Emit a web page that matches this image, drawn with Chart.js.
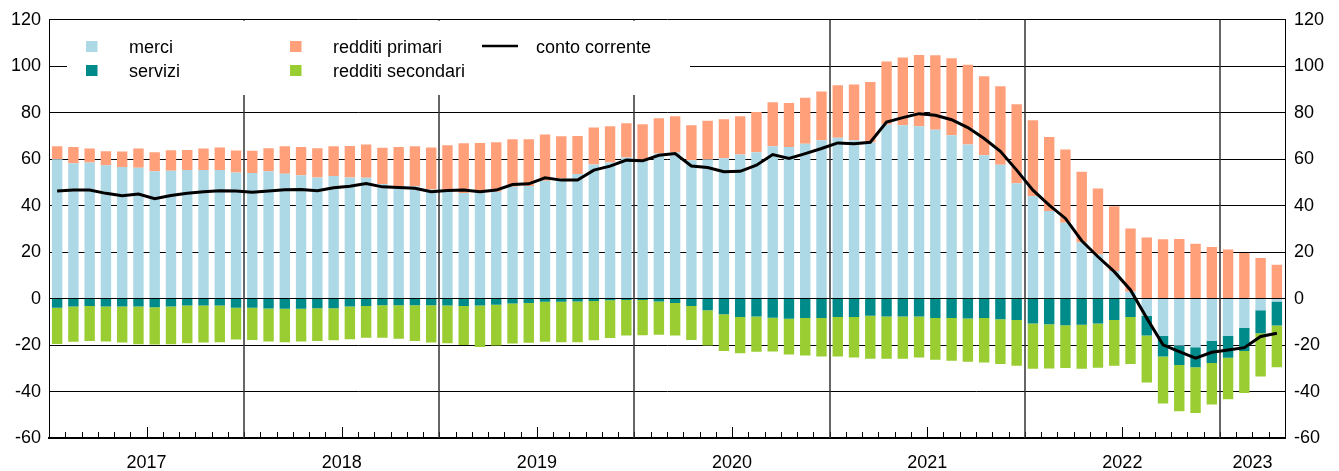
<!DOCTYPE html>
<html lang="it">
<head>
<meta charset="UTF-8">
<title>Conto corrente</title>
<script src="https://cdn.jsdelivr.net/npm/chart.js"></script>
<style>
  html, body { margin: 0; padding: 0; background: #fff; }
  #wrap { width: 1339px; height: 471px; position: relative; }
</style>
</head>
<body>
<div id="wrap"><canvas id="chart"></canvas></div>
<script>
// anni e mesi coperti (gen 2017 - apr 2023)
const years = ['2017', '2018', '2019', '2020', '2021', '2022', '2023'];
const monthsPerYear = [12, 12, 12, 12, 12, 12, 4];
const yTicks = [-60, -40, -20, 0, 20, 40, 60, 80, 100, 120];

const merci = [
  60.0, 58.3, 58.6, 57.4, 56.6, 56.3, 54.8, 55.0, 55.3, 55.3, 55.4, 54.3,
  54.1, 54.8, 53.7, 53.1, 52.1, 52.8, 52.1, 52.0, 49.3, 48.5, 48.4, 47.0,
  46.0, 45.5, 46.0, 46.0, 48.1, 48.5, 50.7, 51.7, 53.6, 57.7, 58.6, 60.7,
  59.1, 62.4, 62.9, 59.6, 59.9, 60.4, 62.0, 63.0, 65.6, 65.2, 66.7, 68.2,
  69.2, 68.2, 67.2, 74.9, 74.6, 74.2, 72.7, 70.3, 66.3, 61.7, 57.6, 49.7,
  44.1, 37.7, 32.7, 24.1, 19.0, 11.9, 3.0, -7.4, -16.0, -20.2, -20.9, -18.2,
  -16.0, -12.7, -5.0, -1.3
];
const servizi = [
  -3.9, -3.4, -3.2, -3.4, -3.4, -3.4, -3.7, -3.4, -3.0, -3.0, -3.0, -3.9,
  -3.9, -4.3, -4.4, -4.4, -4.2, -4.2, -3.4, -3.2, -2.9, -2.9, -2.9, -2.9,
  -3.0, -3.2, -3.0, -2.6, -2.1, -1.9, -1.4, -1.4, -1.3, -1.0, -0.7, -0.6,
  -0.6, -1.3, -1.9, -3.2, -5.0, -6.7, -7.9, -7.7, -8.2, -8.7, -8.4, -8.3,
  -7.9, -7.9, -7.4, -7.7, -7.7, -7.7, -8.3, -8.3, -8.6, -8.3, -8.9, -9.2,
  -10.7, -11.0, -11.5, -11.3, -10.7, -9.2, -7.9, -8.5, -8.9, -8.4, -8.7, -9.5,
  -9.5, -9.9, -9.9, -10.3
];
const redditiPrimari = [
  5.6, 7.0, 6.0, 6.0, 6.7, 8.3, 8.2, 8.9, 8.7, 9.3, 9.6, 9.4,
  9.5, 9.9, 11.9, 12.2, 12.6, 12.8, 13.6, 14.3, 15.6, 16.7, 17.2, 18.0,
  20.0, 21.4, 21.0, 21.3, 20.5, 20.1, 19.9, 18.2, 16.4, 15.9, 15.6, 14.8,
  15.9, 15.2, 15.6, 15.0, 16.6, 16.8, 16.5, 17.3, 18.9, 19.0, 19.8, 20.9,
  22.6, 23.9, 26.0, 27.1, 29.2, 30.6, 32.0, 33.2, 34.4, 34.0, 33.8, 33.9,
  32.7, 31.9, 31.5, 30.5, 28.4, 27.8, 27.2, 26.3, 25.5, 25.6, 23.6, 22.2,
  21.1, 19.6, 17.5, 14.6
];
const redditiSecondari = [
  -15.6, -15.2, -15.0, -15.1, -15.5, -16.2, -16.1, -16.2, -16.2, -15.9, -15.8, -13.7,
  -13.9, -14.2, -14.4, -14.1, -14.0, -13.7, -14.1, -13.7, -14.0, -14.4, -15.3, -16.0,
  -16.2, -16.8, -17.8, -17.6, -17.2, -17.1, -17.2, -17.4, -17.5, -16.9, -16.3, -15.3,
  -15.2, -14.3, -14.0, -14.6, -15.2, -15.9, -15.6, -15.2, -14.6, -15.4, -16.1, -16.6,
  -17.0, -17.4, -18.5, -18.2, -18.2, -17.6, -18.0, -18.5, -18.6, -19.2, -19.3, -19.7,
  -19.5, -19.1, -18.4, -18.9, -19.1, -19.7, -20.2, -20.2, -20.3, -19.9, -19.6, -17.9,
  -17.8, -18.0, -18.6, -18.0
];
const contoCorrente = [
  46.3, 46.7, 46.7, 45.3, 44.3, 45.0, 43.0, 44.4, 45.3, 46.0, 46.4, 46.3,
  45.8, 46.3, 46.8, 47.0, 46.4, 47.7, 48.4, 49.5, 48.1, 47.8, 47.5, 46.0,
  46.5, 46.7, 46.0, 46.7, 49.1, 49.4, 52.0, 51.0, 51.0, 55.3, 57.0, 59.6,
  59.3, 61.7, 62.4, 57.1, 56.4, 54.6, 54.8, 57.4, 62.0, 60.3, 62.4, 64.6,
  67.0, 66.7, 67.3, 76.0, 77.9, 79.6, 78.9, 77.0, 73.6, 68.9, 63.4, 55.3,
  46.7, 40.2, 34.5, 24.9, 18.0, 11.6, 3.7, -8.4, -19.9, -22.8, -25.6, -23.1,
  -22.1, -21.1, -16.3, -14.9
];

const colors = {
  merci: '#add8e6',
  servizi: '#008b8b',
  primari: '#ffa07a',
  secondari: '#9acd32'
};

const labels = [];
years.forEach((y, i) => {
  for (let m = 1; m <= monthsPerYear[i]; m++) labels.push(y + '-' + String(m).padStart(2, '0'));
});

Chart.defaults.font.family = '"Liberation Sans", Arial, sans-serif';
Chart.defaults.font.size = 18;
Chart.defaults.color = '#000';

const FONT = '18px "Liberation Sans", Arial, sans-serif';

// griglia degli anni, tacche mensili, legenda e etichette degli anni
const framePlugin = {
  id: 'frame',
  beforeDatasetsDraw(chart) {
    const { ctx, chartArea: a, scales: { x } } = chart;
    const n = labels.length;
    const edge = k => k === 0 ? a.left : k === n ? a.right
      : (x.getPixelForValue(k - 1) + x.getPixelForValue(k)) / 2;

    ctx.save();
    let start = 0;
    const starts = monthsPerYear.map(c => { const s = start; start += c; return s; });

    // tacche dei mesi
    ctx.strokeStyle = '#000';
    ctx.lineWidth = 1;
    for (let k = 1; k < n; k++) {
      const px = Math.round(edge(k)) + 0.5;
      const isMid = starts.some((s, i) => monthsPerYear[i] > 6 && k === s + 6);
      const len = isMid ? 11 : 6;
      ctx.beginPath();
      ctx.moveTo(px, a.bottom);
      ctx.lineTo(px, a.bottom - len);
      ctx.stroke();
    }

    // linee verticali di inizio anno
    ctx.strokeStyle = '#333';
    ctx.lineWidth = 1.5;
    starts.slice(1).forEach(s => {
      const px = Math.round(edge(s));
      ctx.beginPath();
      ctx.moveTo(px, a.top);
      ctx.lineTo(px, a.bottom);
      ctx.stroke();
    });

    // riquadro bianco della legenda
    ctx.fillStyle = '#fff';
    ctx.fillRect(67, a.top + 1, 623, 95 - a.top - 1);

    ctx.font = FONT;
    ctx.textBaseline = 'alphabetic';
    ctx.textAlign = 'left';
    const items = [
      { t: 'merci', c: colors.merci, x: 86, y: 41 },
      { t: 'servizi', c: colors.servizi, x: 86, y: 65 },
      { t: 'redditi primari', c: colors.primari, x: 290, y: 41 },
      { t: 'redditi secondari', c: colors.secondari, x: 290, y: 65 }
    ];
    items.forEach(it => {
      ctx.fillStyle = it.c;
      ctx.fillRect(it.x, it.y, 11.5, 11);
      ctx.fillStyle = '#000';
      ctx.fillText(it.t, it.x + 43, it.y + 12);
    });
    ctx.strokeStyle = '#000';
    ctx.lineWidth = 2.5;
    ctx.beginPath();
    ctx.moveTo(482, 46);
    ctx.lineTo(518, 46);
    ctx.stroke();
    ctx.fillText('conto corrente', 536, 53);

    // etichette degli anni
    ctx.textAlign = 'center';
    starts.forEach((s, i) => {
      const mid = (edge(s) + edge(s + monthsPerYear[i])) / 2;
      ctx.fillText(years[i], mid, 468);
    });
    ctx.restore();
  }
};

new Chart(document.getElementById('chart'), {
  type: 'bar',
  data: {
    labels,
    datasets: [
      { type: 'line', label: 'conto corrente', data: contoCorrente, borderColor: '#000',
        borderWidth: 3, pointRadius: 0, tension: 0, stack: 'cc', order: 0, yAxisID: 'y' },
      { label: 'merci', data: merci, backgroundColor: colors.merci, stack: 'bop', order: 1 },
      { label: 'servizi', data: servizi, backgroundColor: colors.servizi, stack: 'bop', order: 1 },
      { label: 'redditi primari', data: redditiPrimari, backgroundColor: colors.primari, stack: 'bop', order: 1 },
      { label: 'redditi secondari', data: redditiSecondari, backgroundColor: colors.secondari, stack: 'bop', order: 1 }
    ]
  },
  options: {
    responsive: true,
    maintainAspectRatio: false,
    animation: false,
    layout: { padding: { top: 19, left: 0, right: 0, bottom: 0 } },
    datasets: { bar: { categoryPercentage: 1, barPercentage: 0.64 } },
    plugins: { legend: { display: false }, tooltip: { enabled: false } },
    scales: {
      x: {
        stacked: true,
        offset: true,
        grid: { display: false },
        ticks: { display: false },
        border: { color: '#000', width: 2 },
        afterFit: s => { s.height = 33; }
      },
      y: {
        position: 'left',
        stacked: true,
        min: yTicks[0],
        max: yTicks[yTicks.length - 1],
        ticks: { stepSize: 20, padding: 8, color: '#000' },
        grid: { color: '#000', lineWidth: 1, drawTicks: false },
        border: { color: '#000', width: 1 },
        afterFit: s => { s.width = 49; }
      },
      y2: {
        position: 'right',
        min: yTicks[0],
        max: yTicks[yTicks.length - 1],
        ticks: { stepSize: 20, padding: 9, color: '#000' },
        grid: { display: false, drawTicks: false },
        border: { color: '#000', width: 1 },
        afterFit: s => { s.width = 54; }
      }
    }
  },
  plugins: [framePlugin]
});
</script>
</body>
</html>
